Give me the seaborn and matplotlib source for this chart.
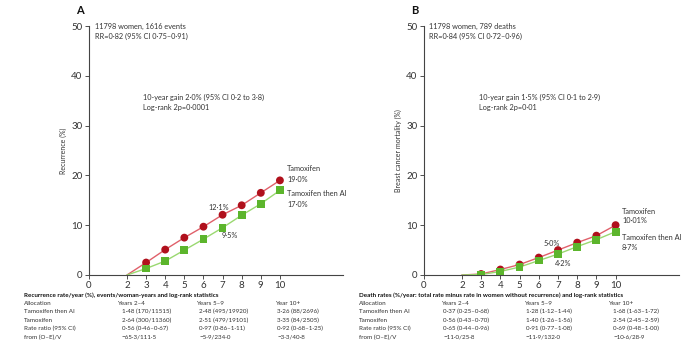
import matplotlib
matplotlib.use("Agg")
import matplotlib.pyplot as plt
import seaborn as sns
import pandas as pd

sns.set_style("ticks")
FAMILY = ["Lato", "DejaVu Sans"]
plt.rcParams["font.family"] = FAMILY

years = [2, 3, 4, 5, 6, 7, 8, 9, 10]

# Panel A: recurrence (%)
rec_tam = [0, 2.5, 5.1, 7.5, 9.7, 12.1, 14.0, 16.5, 19.0]
rec_tam_ai = [0, 1.3, 2.8, 5.0, 7.2, 9.5, 12.0, 14.3, 17.0]
# Panel B: breast cancer mortality (%)
mort_tam = [0, 0.2, 1.1, 2.1, 3.5, 5.0, 6.5, 7.9, 10.01]
mort_tam_ai = [0, 0.1, 0.7, 1.6, 2.9, 4.2, 5.7, 7.1, 8.7]

# half-width of the error bar at year 10
err10_a = [0.6, 0.6]
err10_b = [0.4, 0.3]

RED_LINE, RED_MK = "#e0606a", "#b0101c"
GRN_LINE, GRN_MK = "#9ad870", "#5cb52c"

table_a_title = "Recurrence rate/year (%), events/woman-years and log-rank statistics"
table_b_title = ("Death rates (%/year: total rate minus rate in women without recurrence) "
                 "and log-rank statistics")
row_labels = ["Allocation", "Tamoxifen then AI", "Tamoxifen", "Rate ratio (95% CI)", "from (O\u2013E)/V"]
col_heads = ["Years 2\u20134", "Years 5\u20139", "Year 10+"]
table_a = [
    ["1\u00b748 (170/11515)", "2\u00b748 (495/19920)", "3\u00b726 (88/2696)"],
    ["2\u00b764 (300/11360)", "2\u00b751 (479/19101)", "3\u00b735 (84/2505)"],
    ["0\u00b756 (0\u00b746\u20130\u00b767)", "0\u00b797 (0\u00b786\u20131\u00b711)", "0\u00b792 (0\u00b768\u20131\u00b725)"],
    ["\u221265\u00b73/111\u00b75", "\u22125\u00b79/234\u00b70", "\u22123\u00b73/40\u00b78"],
]
table_b = [
    ["0\u00b737 (0\u00b725\u20130\u00b768)", "1\u00b728 (1\u00b712\u20131\u00b744)", "1\u00b768 (1\u00b763\u20131\u00b772)"],
    ["0\u00b756 (0\u00b743\u20130\u00b770)", "1\u00b740 (1\u00b726\u20131\u00b756)", "2\u00b754 (2\u00b745\u20132\u00b759)"],
    ["0\u00b765 (0\u00b744\u20130\u00b796)", "0\u00b791 (0\u00b777\u20131\u00b708)", "0\u00b769 (0\u00b748\u20131\u00b700)"],
    ["\u221211\u00b70/25\u00b78", "\u221211\u00b79/132\u00b70", "\u221210\u00b76/28\u00b79"],
]

W, H = 692, 349
fig = plt.figure(figsize=(W / 100, H / 100), dpi=100)
renderer = fig.canvas.get_renderer()


def size_for_width(sample, width_px, weight="normal"):
    """Font size at which `sample` spans `width_px` pixels."""
    t = fig.text(0, 0, sample, fontsize=10, fontweight=weight)
    w = t.get_window_extent(renderer).width
    t.remove()
    return 10 * width_px / w


TABLE_FS = size_for_width("Tamoxifen then AI", 51)
TITLE_A_FS = size_for_width(table_a_title, 196, "bold")
TITLE_B_FS = size_for_width(table_b_title, 266, "bold")
NOTE_FS = size_for_width("11798 women, 1616 events", 92)


def px_axes(x0, x1, y_top, y_bot):
    return fig.add_axes([x0 / W, 1 - y_bot / H, (x1 - x0) / W, (y_bot - y_top) / H])


def ftext(x, y, s, **kw):
    kw.setdefault("fontsize", TABLE_FS)
    kw.setdefault("color", "#333333")
    fig.text(x / W, 1 - y / H, s, va="center", **kw)


def note(x, y, s):
    ftext(x, y, s, fontsize=NOTE_FS)


def draw_panel(ax, tam, tam_ai, err, ylabel):
    df = pd.DataFrame({
        "year": years * 2,
        "value": tam + tam_ai,
        "arm": ["Tamoxifen"] * len(years) + ["Tamoxifen then AI"] * len(years),
    })
    sns.lineplot(data=df, x="year", y="value", hue="arm",
                 palette={"Tamoxifen": RED_LINE, "Tamoxifen then AI": GRN_LINE},
                 linewidth=1.0, legend=False, ax=ax)
    ax.errorbar([10], [tam[-1]], yerr=err[0], fmt="none", ecolor=RED_MK, elinewidth=0.8, capsize=0)
    ax.errorbar([10], [tam_ai[-1]], yerr=err[1], fmt="none", ecolor=GRN_MK, elinewidth=0.8, capsize=0)
    mk = df[df["year"] > 2]
    sns.scatterplot(data=mk, x="year", y="value", hue="arm", style="arm",
                    markers={"Tamoxifen": "o", "Tamoxifen then AI": "s"},
                    palette={"Tamoxifen": RED_MK, "Tamoxifen then AI": GRN_MK},
                    s=32, edgecolor="none", legend=False, ax=ax, zorder=3)
    ax.set_xlim(0, 13.3)
    ax.set_ylim(0, 50)
    ax.set_xticks([0, 2, 3, 4, 5, 6, 7, 8, 9, 10])
    ax.set_yticks([0, 10, 20, 30, 40, 50])
    ax.tick_params(labelsize=7, colors="#333333", length=3, width=0.6, pad=1.5)
    for side in ("left", "bottom"):
        ax.spines[side].set_linewidth(0.8)
        ax.spines[side].set_color("#444444")
    sns.despine(ax=ax)
    ax.set_xlabel("")
    ax.set_ylabel(ylabel, fontsize=NOTE_FS * 0.95, color="#333333", labelpad=3)
    ax.set_facecolor("none")


# ---- Panel A ----
axA = px_axes(88.75, 343, 26, 275)
draw_panel(axA, rec_tam, rec_tam_ai, err10_a, "Recurrence (%)")
ftext(76, 11, "A", fontsize=8, fontweight="bold", color="#111111")
note(95, 26, "11798 women, 1616 events")
note(95, 36, "RR=0\u00b782 (95% CI 0\u00b775\u20130\u00b791)")
note(143, 97, "10-year gain 2\u00b70% (95% CI 0\u00b72 to 3\u00b78)")
note(143, 107, "Log-rank 2p=0\u00b70001")
note(287, 169, "Tamoxifen")
note(287, 179, "19\u00b70%")
note(287, 194, "Tamoxifen then AI")
note(287, 204, "17\u00b70%")
note(208, 207, "12\u00b71%")
note(222, 236, "9\u00b75%")

# ---- Panel B ----
axB = px_axes(423.5, 679, 26, 275)
draw_panel(axB, mort_tam, mort_tam_ai, err10_b, "Breast cancer mortality (%)")
ftext(411, 11, "B", fontsize=8, fontweight="bold", color="#111111")
note(429, 26, "11798 women, 789 deaths")
note(429, 36, "RR=0\u00b784 (95% CI 0\u00b772\u20130\u00b796)")
note(479, 97, "10-year gain 1\u00b75% (95% CI 0\u00b71 to 2\u00b79)")
note(479, 107, "Log-rank 2p=0\u00b701")
note(622, 211, "Tamoxifen")
note(622, 221, "10\u00b701%")
note(622, 237, "Tamoxifen then AI")
note(622, 247, "8\u00b77%")
note(544, 243, "5\u00b70%")
note(555, 263, "4\u00b72%")

# ---- statistics tables ----
row_y = [303.5, 311.8, 320.1, 328.6, 337.0]


def draw_table(x_lab, x_heads, x_vals, title, title_fs, rows):
    ftext(x_lab, 295, title, fontsize=title_fs, fontweight="bold", color="#111111")
    ftext(x_lab, row_y[0], row_labels[0])
    for xh, head in zip(x_heads, col_heads):
        ftext(xh, row_y[0], head)
    for y, lab, vals in zip(row_y[1:], row_labels[1:], rows):
        ftext(x_lab, y, lab)
        for xv, v in zip(x_vals, vals):
            ftext(xv, y, v)


draw_table(24, [117, 196, 275], [122, 199, 277], table_a_title, TITLE_A_FS, table_a)
draw_table(359, [441, 524, 608], [443, 526, 613], table_b_title, TITLE_B_FS, table_b)

fig.savefig("out.png", dpi=100)
